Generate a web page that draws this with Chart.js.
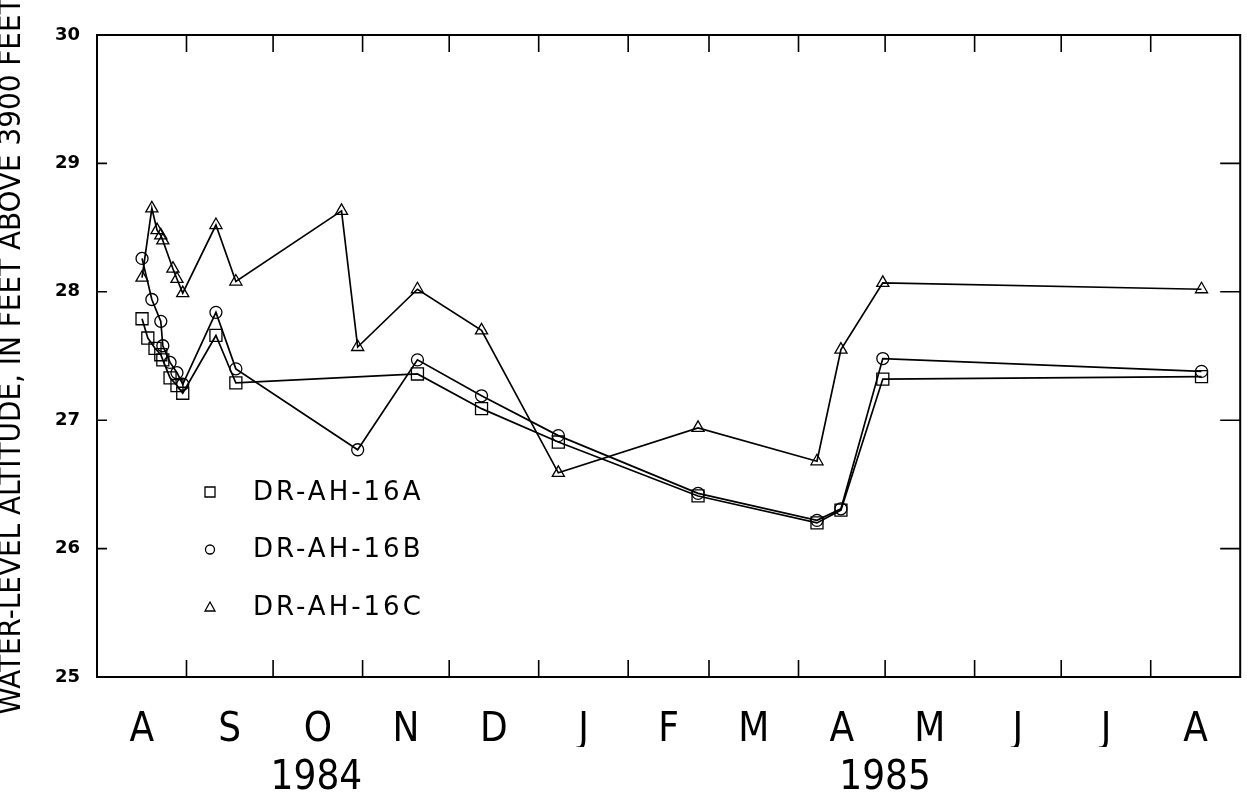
<!DOCTYPE html>
<html>
<head>
<meta charset="utf-8">
<title>Water levels DR-AH-16</title>
<script src="https://cdn.jsdelivr.net/npm/chart.js@4.4.1/dist/chart.umd.min.js"></script>
<style>
  html, body { margin: 0; padding: 0; background: #fff; }
  canvas { display: block; }
</style>
</head>
<body>
<canvas id="levelChart" width="1250" height="801"></canvas>
<script>
// x values are days since 1 Aug 1984
const monthStarts = [0, 31, 61, 92, 122, 153, 184, 212, 243, 273, 304, 334, 365, 396];
const monthLabels = ['A', 'S', 'O', 'N', 'D', 'J', 'F', 'M', 'A', 'M', 'J', 'J', 'A'];
const yearLabels = ['1984', '1985'];
const yearDays = [76, 273];

const seriesNames = ['DR-AH-16A', 'DR-AH-16B', 'DR-AH-16C'];

const daysA = [15.6, 17.6, 20.1, 22.1, 22.8, 25.3, 27.7, 29.7, 41.2, 48.1, 111.0, 133.2, 159.8, 208.2, 249.4, 257.7, 272.2, 382.6];
const levelsA = [27.79, 27.64, 27.56, 27.51, 27.47, 27.33, 27.27, 27.21, 27.66, 27.29, 27.36, 27.09, 26.83, 26.41, 26.20, 26.30, 27.32, 27.34];

const daysB = [15.6, 19.0, 22.1, 22.8, 25.3, 27.7, 29.7, 41.2, 48.1, 90.3, 111.0, 133.2, 159.8, 208.2, 249.4, 257.7, 272.2, 382.6];
const levelsB = [28.26, 27.94, 27.77, 27.58, 27.45, 27.37, 27.28, 27.84, 27.40, 26.77, 27.47, 27.19, 26.88, 26.43, 26.22, 26.31, 27.48, 27.38];

const daysC = [15.6, 19.0, 20.8, 22.1, 22.8, 26.3, 27.7, 29.7, 41.2, 48.1, 84.7, 90.3, 111.0, 133.2, 159.8, 208.2, 249.4, 257.7, 272.2, 382.6];
const levelsC = [28.11, 28.65, 28.48, 28.44, 28.40, 28.18, 28.10, 27.99, 28.52, 28.08, 28.63, 27.57, 28.02, 27.70, 26.59, 26.94, 26.68, 27.55, 28.07, 28.02];

const FONT = "'DejaVu Sans Condensed', 'DejaVu Sans', sans-serif";

function toPoints(days, levels) {
  return days.map((d, i) => ({ x: d, y: levels[i] }));
}

function makeSet(label, days, levels, style, radius) {
  return {
    label: label,
    data: toPoints(days, levels),
    borderColor: '#000',
    borderWidth: 1.7,
    tension: 0,
    pointStyle: style,
    pointRadius: radius,
    pointBorderWidth: 1.3,
    pointBorderColor: '#000',
    pointBackgroundColor: 'rgba(0,0,0,0)'
  };
}

// frame plus short inward tick marks on all four sides
const framePlugin = {
  id: 'frame',
  afterDatasetsDraw(chart) {
    const ctx = chart.ctx;
    const a = chart.chartArea;
    ctx.save();
    ctx.strokeStyle = '#000';
    ctx.lineWidth = 2;
    ctx.strokeRect(a.left, a.top, a.right - a.left, a.bottom - a.top);
    ctx.lineWidth = 1.6;
    ctx.beginPath();
    chart.scales.x.ticks.forEach(t => {
      if (t.value <= 0 || t.value >= 396) return;
      const px = chart.scales.x.getPixelForValue(t.value);
      ctx.moveTo(px, a.top);
      ctx.lineTo(px, a.top + 17);
      ctx.moveTo(px, a.bottom);
      ctx.lineTo(px, a.bottom - 17);
    });
    chart.scales.y.ticks.forEach(t => {
      if (t.value <= 25 || t.value >= 30) return;
      const py = chart.scales.y.getPixelForValue(t.value);
      ctx.moveTo(a.left, py);
      ctx.lineTo(a.left + 10, py);
      ctx.moveTo(a.right, py);
      ctx.lineTo(a.right - 20, py);
    });
    ctx.stroke();
    ctx.restore();
  }
};

// legend drawn inside the plot, lower left
const innerLegend = {
  id: 'innerLegend',
  afterDraw(chart, args, opts) {
    const ctx = chart.ctx;
    ctx.save();
    ctx.strokeStyle = '#000';
    ctx.fillStyle = '#000';
    ctx.lineWidth = 1.3;
    ctx.font = "26px 'DejaVu Sans', sans-serif";
    ctx.letterSpacing = '3px';
    ctx.textBaseline = 'middle';
    chart.data.datasets.forEach((ds, i) => {
      const y = opts.top + i * opts.rowGap;
      const x = opts.markerX;
      ctx.beginPath();
      if (ds.pointStyle === 'rect') {
        ctx.rect(x - 5, y - 5, 10, 10);
      } else if (ds.pointStyle === 'circle') {
        ctx.arc(x, y, 4.5, 0, Math.PI * 2);
      } else {
        ctx.moveTo(x, y - 5);
        ctx.lineTo(x + 5, y + 4);
        ctx.lineTo(x - 5, y + 4);
        ctx.closePath();
      }
      ctx.stroke();
      ctx.fillText(ds.label, opts.textX, y + 1);
    });
    ctx.restore();
  }
};

new Chart(document.getElementById('levelChart'), {
  type: 'line',
  data: {
    datasets: [
      makeSet(seriesNames[0], daysA, levelsA, 'rect', 8.5),
      makeSet(seriesNames[1], daysB, levelsB, 'circle', 6),
      makeSet(seriesNames[2], daysC, levelsC, 'triangle', 7)
    ]
  },
  options: {
    responsive: false,
    animation: false,
    devicePixelRatio: 1,
    layout: { padding: { top: 35, right: 8, bottom: 0, left: 0 } },
    plugins: {
      legend: { display: false },
      tooltip: { enabled: false },
      innerLegend: { markerX: 210, textX: 253, top: 492, rowGap: 57.5 }
    },
    scales: {
      x: {
        type: 'linear',
        position: 'bottom',
        weight: 0,
        min: 0,
        max: 396,
        afterBuildTicks: s => { s.ticks = monthStarts.map(v => ({ value: v })); },
        afterFit: s => { s.height = 0; },
        ticks: { display: false },
        grid: { display: false },
        border: { display: false }
      },
      xMonth: {
        type: 'linear',
        position: 'bottom',
        weight: 1,
        min: 0,
        max: 396,
        afterBuildTicks: s => {
          s.ticks = monthLabels.map((m, i) => ({ value: (monthStarts[i] + monthStarts[i + 1]) / 2 }));
        },
        afterFit: s => { s.height = 70; },
        ticks: {
          autoSkip: false,
          maxRotation: 0,
          padding: 22,
          color: '#000',
          font: { family: FONT, size: 40 },
          callback: (v, i) => monthLabels[i]
        },
        grid: { display: false },
        border: { display: false }
      },
      xYear: {
        type: 'linear',
        position: 'bottom',
        weight: 2,
        min: 0,
        max: 396,
        afterBuildTicks: s => { s.ticks = yearDays.map(v => ({ value: v })); },
        afterFit: s => { s.height = 54; },
        ticks: {
          autoSkip: false,
          maxRotation: 0,
          padding: 0,
          color: '#000',
          font: { family: FONT, size: 40 },
          callback: (v, i) => yearLabels[i]
        },
        grid: { display: false },
        border: { display: false }
      },
      y: {
        min: 25,
        max: 30,
        afterFit: s => { s.width = 97; },
        ticks: {
          stepSize: 1,
          padding: 9,
          color: '#000',
          font: { family: "'DejaVu Sans', sans-serif", size: 18, weight: 'bold' }
        },
        grid: { display: false },
        border: { display: false },
        title: {
          display: true,
          text: 'WATER-LEVEL ALTITUDE, IN FEET ABOVE 3900 FEET',
          color: '#000',
          padding: 0,
          font: { family: FONT, size: 31, lineHeight: 0.8 }
        }
      }
    }
  },
  plugins: [framePlugin, innerLegend]
});
</script>
</body>
</html>
